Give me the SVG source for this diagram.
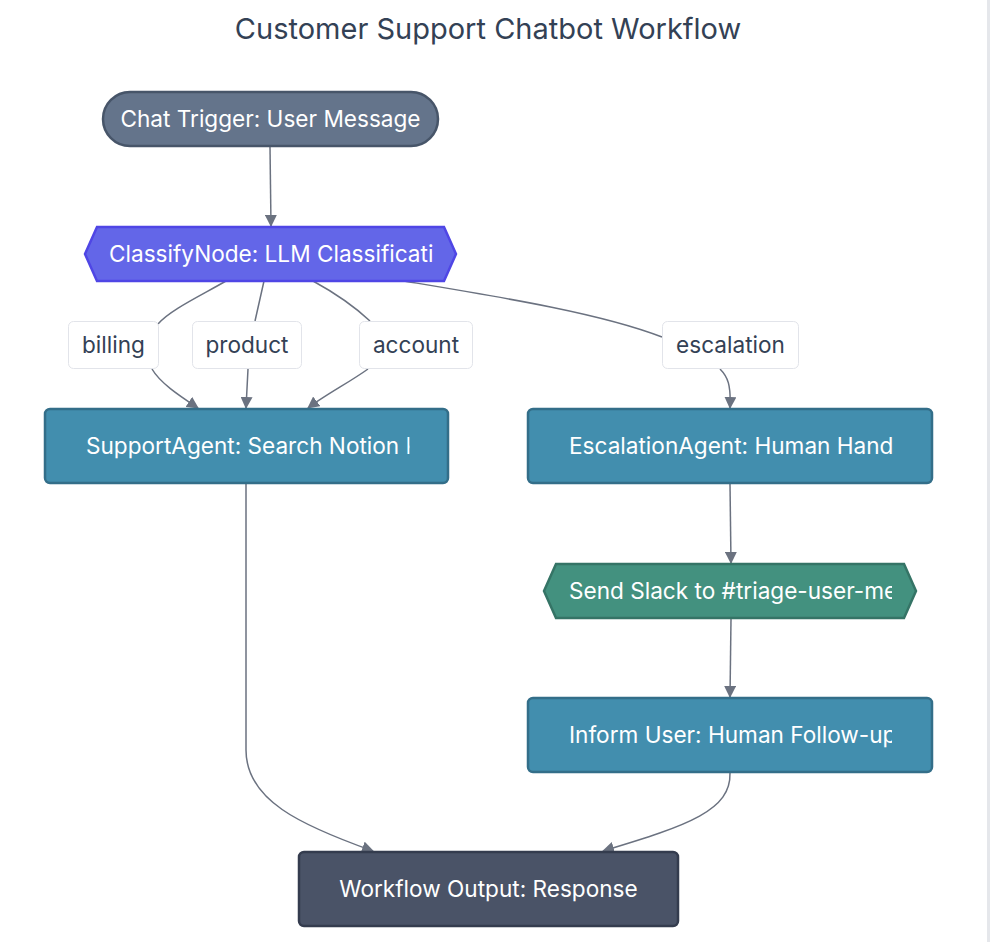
<svg xmlns="http://www.w3.org/2000/svg" width="990" height="942" viewBox="0 0 990 942">
<style>
.t{font-family:Inter,"Noto Sans","Liberation Sans",sans-serif;}
.title{font-size:29px;fill:#334155;}
.nt{font-size:22.6px;fill:#ffffff;}
.lt{font-size:22.6px;fill:#334155;}
.lbl{fill:#ffffff;stroke:#e2e4ea;stroke-width:1;}
.edge{fill:none;stroke:#6b7280;stroke-width:1.5;}
.agent{fill:#428eae;stroke:#336e89;stroke-width:2.5;}
</style>
<defs>
<marker id="arr" viewBox="0 0 12 12" refX="11" refY="6" markerWidth="12" markerHeight="12" markerUnits="userSpaceOnUse" orient="auto">
<path d="M0,0 L12,6 L0,12 z" fill="#6b7280"/>
</marker>
<clipPath id="cClassify"><rect x="100" y="230" width="333" height="50"/></clipPath>
<clipPath id="cSupport"><rect x="80" y="412" width="329.5" height="68"/></clipPath>
<clipPath id="cEsc"><rect x="560" y="412" width="334" height="68"/></clipPath>
<clipPath id="cSlack"><rect x="560" y="567" width="332" height="50"/></clipPath>
<clipPath id="cInform"><rect x="560" y="701" width="332" height="68"/></clipPath>
</defs>
<rect x="0" y="0" width="990" height="942" fill="#ffffff"/>
<rect x="987" y="0" width="3" height="942" fill="#e5e7eb"/>
<text class="t title" x="488" y="39" text-anchor="middle">Customer Support Chatbot Workflow</text>

<g id="connectors">
<path class="edge" d="M270,147 L271,226" marker-end="url(#arr)"/>
<path class="edge" d="M226,281 C200,296 170,310 158,324 M152,369 C160,383 180,396 198,408" marker-end="url(#arr)"/>
<path class="edge" d="M264,281 L255,321 M248,369 L246,408" marker-end="url(#arr)"/>
<path class="edge" d="M313,281 C335,293 355,307 370,321 M368,369 C350,382 325,395 308,408" marker-end="url(#arr)"/>
<path class="edge" d="M404,281 C500,297 600,313 662,337 M720,369 C728,377 731,385 730,408" marker-end="url(#arr)"/>
<path class="edge" d="M730,484 L731,563" marker-end="url(#arr)"/>
<path class="edge" d="M731,619 L730,697" marker-end="url(#arr)"/>
<path class="edge" d="M246,484 L246,750 C246,800 300,825 373,851" marker-end="url(#arr)"/>
<path class="edge" d="M730,773 C731,810 690,825 603,851" marker-end="url(#arr)"/>
</g>

<g id="lbl-billing">
<rect class="lbl" x="68.5" y="321.5" width="90" height="47" rx="5"/>
<text class="t lt" x="113.5" y="353" text-anchor="middle">billing</text>
</g>
<g id="lbl-product">
<rect class="lbl" x="192.5" y="321.5" width="109" height="47" rx="5"/>
<text class="t lt" x="247" y="353" text-anchor="middle">product</text>
</g>
<g id="lbl-account">
<rect class="lbl" x="359.5" y="321.5" width="113" height="47" rx="5"/>
<text class="t lt" x="416" y="353" text-anchor="middle">account</text>
</g>
<g id="lbl-escalation">
<rect class="lbl" x="662.5" y="321.5" width="136" height="47" rx="5"/>
<text class="t lt" x="730.5" y="353" text-anchor="middle">escalation</text>
</g>

<g id="chat-trigger">
<rect x="103" y="92" width="335" height="54" rx="27" fill="#64748b" stroke="#475569" stroke-width="2.5"/>
<text class="t nt" x="270.5" y="127" text-anchor="middle">Chat Trigger: User Message</text>
</g>

<g id="classify-node">
<polygon points="85,254 97,227 444,227 456,254 444,281 97,281" fill="#6366e8" stroke="#4f46e5" stroke-width="2.5"/>
<text class="t nt" x="109" y="262" clip-path="url(#cClassify)">ClassifyNode: LLM Classification</text>
</g>

<g id="support-agent">
<rect class="agent" x="45" y="409" width="403" height="74" rx="5"/>
<text class="t nt" x="86" y="454" clip-path="url(#cSupport)">SupportAgent: Search Notion KB</text>
</g>

<g id="escalation-agent">
<rect class="agent" x="528" y="409" width="404" height="74" rx="5"/>
<text class="t nt" x="569" y="454" clip-path="url(#cEsc)">EscalationAgent: Human Handoff</text>
</g>

<g id="send-slack">
<polygon points="544,591 556,564 904,564 916,591 904,618 556,618" fill="#43917f" stroke="#357466" stroke-width="2.5"/>
<text class="t nt" x="569" y="599" clip-path="url(#cSlack)">Send Slack to #triage-user-messages</text>
</g>

<g id="inform-user">
<rect class="agent" x="528" y="698" width="404" height="74" rx="5"/>
<text class="t nt" x="569" y="743" clip-path="url(#cInform)">Inform User: Human Follow-up</text>
</g>

<g id="workflow-output">
<rect x="299" y="852" width="379" height="74" rx="5" fill="#4a5367" stroke="#343c4e" stroke-width="2.5"/>
<text class="t nt" x="488.5" y="897" text-anchor="middle">Workflow Output: Response</text>
</g>
</svg>
